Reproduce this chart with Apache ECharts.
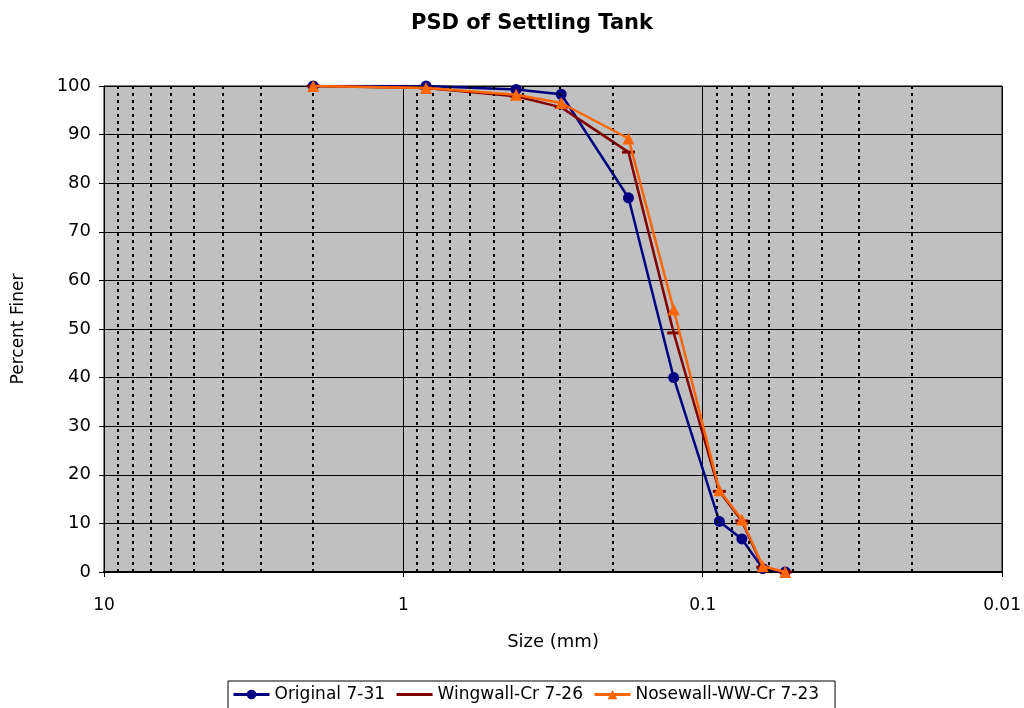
<!DOCTYPE html>
<html>
<head>
<meta charset="utf-8">
<title>PSD of Settling Tank</title>
<script src="https://cdn.jsdelivr.net/npm/echarts@6/dist/echarts.min.js"></script>
<style>
  html, body { margin: 0; padding: 0; background: #fff; }
  #chart { width: 1024px; height: 708px; }
</style>
</head>
<body>
<div id="chart"></div>
<script>
// Sieve sizes (mm) and percent finer for each sample
const sizes = [2.0, 0.84, 0.42, 0.297, 0.177, 0.125, 0.088, 0.074, 0.063, 0.053];
const original = [100, 100, 99.3, 98.3, 77, 40, 10.4, 6.8, 0.7, 0];
const wingwall = [100, 99.6, 97.9, 95.6, 86.4, 49.2, 16.6, 10.5, 1, 0];
const nosewall = [100, 99.6, 98.2, 96.5, 89.2, 54, 16.8, 10.8, 1.2, 0];

const xTickLabels = ['10', '1', '0.1', '0.01'];
const yTicks = [0, 10, 20, 30, 40, 50, 60, 70, 80, 90, 100];

// Minor log gridlines: 2..9 within each decade
const minorLines = [];
[0.01, 0.1, 1].forEach(function (d) {
  for (let k = 2; k <= 9; k++) minorLines.push(+(k * d).toPrecision(3));
});

const font = '"DejaVu Sans", "Liberation Sans", Arial, sans-serif';
const pairs = arr => sizes.map((s, i) => [s, arr[i]]);

const chart = echarts.init(document.getElementById('chart'), null, { renderer: 'canvas' });
chart.setOption({
  animation: false,
  title: {
    text: 'PSD of Settling Tank',
    left: 406,
    top: 8,
    textStyle: { fontFamily: font, fontSize: 21, fontWeight: 'bold', color: '#000' }
  },
  grid: {
    left: 104, right: 20, top: 86, bottom: 136,
    show: true, backgroundColor: '#C0C0C0', borderColor: '#000', borderWidth: 1
  },
  legend: {
    left: 228,
    top: 681,
    data: [
      { name: 'Original 7-31' },
      { name: 'Wingwall-Cr 7-26', itemStyle: { opacity: 0 } },
      { name: 'Nosewall-WW-Cr 7-23' }
    ],
    borderColor: '#000', borderWidth: 1,
    padding: [5, 16, 6, 4],
    itemWidth: 36, itemHeight: 12, itemGap: 10,
    lineStyle: { width: 3 },
    textStyle: { fontFamily: font, fontSize: 17, color: '#000' }
  },
  xAxis: {
    type: 'log',
    logBase: 10,
    min: 0.01,
    max: 10,
    inverse: true,
    name: 'Size (mm)',
    nameLocation: 'middle',
    nameGap: 61,
    nameTextStyle: { fontFamily: font, fontSize: 18, color: '#000' },
    axisLine: { show: true, lineStyle: { color: '#000', width: 2 } },
    axisTick: { show: true, inside: false, length: 5, lineStyle: { color: '#000' } },
    axisLabel: {
      margin: 25,
      fontFamily: font, fontSize: 17, color: '#000',
      formatter: function (v) {
        const idx = Math.round(1 - Math.log10(v));
        return xTickLabels[idx] !== undefined ? xTickLabels[idx] : '';
      }
    },
    splitLine: { show: true, lineStyle: { color: '#000', width: 1 } }
  },
  yAxis: {
    type: 'value',
    min: yTicks[0],
    max: yTicks[yTicks.length - 1],
    interval: 10,
    name: 'Percent Finer',
    nameLocation: 'middle',
    nameGap: 77,
    nameTextStyle: { fontFamily: font, fontSize: 17, color: '#000' },
    axisLine: { show: true, lineStyle: { color: '#000', width: 1 } },
    axisTick: { show: true, length: 5, lineStyle: { color: '#000' } },
    axisLabel: { margin: 13, fontFamily: font, fontSize: 18, color: '#000' },
    splitLine: { show: true, lineStyle: { color: '#000', width: 1 } }
  },
  series: [
    {
      name: 'minor-grid',
      type: 'line',
      data: [],
      z: 1,
      silent: true,
      markLine: {
        silent: true,
        symbol: 'none',
        label: { show: false },
        lineStyle: { color: '#000', type: [3, 4], width: 2 },
        data: minorLines.map(v => ({ xAxis: v }))
      }
    },
    {
      name: 'Original 7-31',
      type: 'line',
      data: pairs(original),
      symbol: 'circle',
      symbolSize: 11,
      color: '#000080',
      lineStyle: { width: 2.5, color: '#000080' },
      itemStyle: { color: '#000080' },
      z: 3
    },
    {
      name: 'Wingwall-Cr 7-26',
      type: 'line',
      data: pairs(wingwall),
      symbol: 'rect',
      symbolSize: [13, 3],
      color: '#800000',
      lineStyle: { width: 2.5, color: '#800000' },
      itemStyle: { color: '#800000' },
      z: 4
    },
    {
      name: 'Nosewall-WW-Cr 7-23',
      type: 'line',
      data: pairs(nosewall),
      symbol: 'triangle',
      symbolSize: 12,
      color: '#FF6600',
      lineStyle: { width: 2.5, color: '#FF6600' },
      itemStyle: { color: '#FF6600' },
      z: 5
    }
  ]
});
</script>
</body>
</html>
